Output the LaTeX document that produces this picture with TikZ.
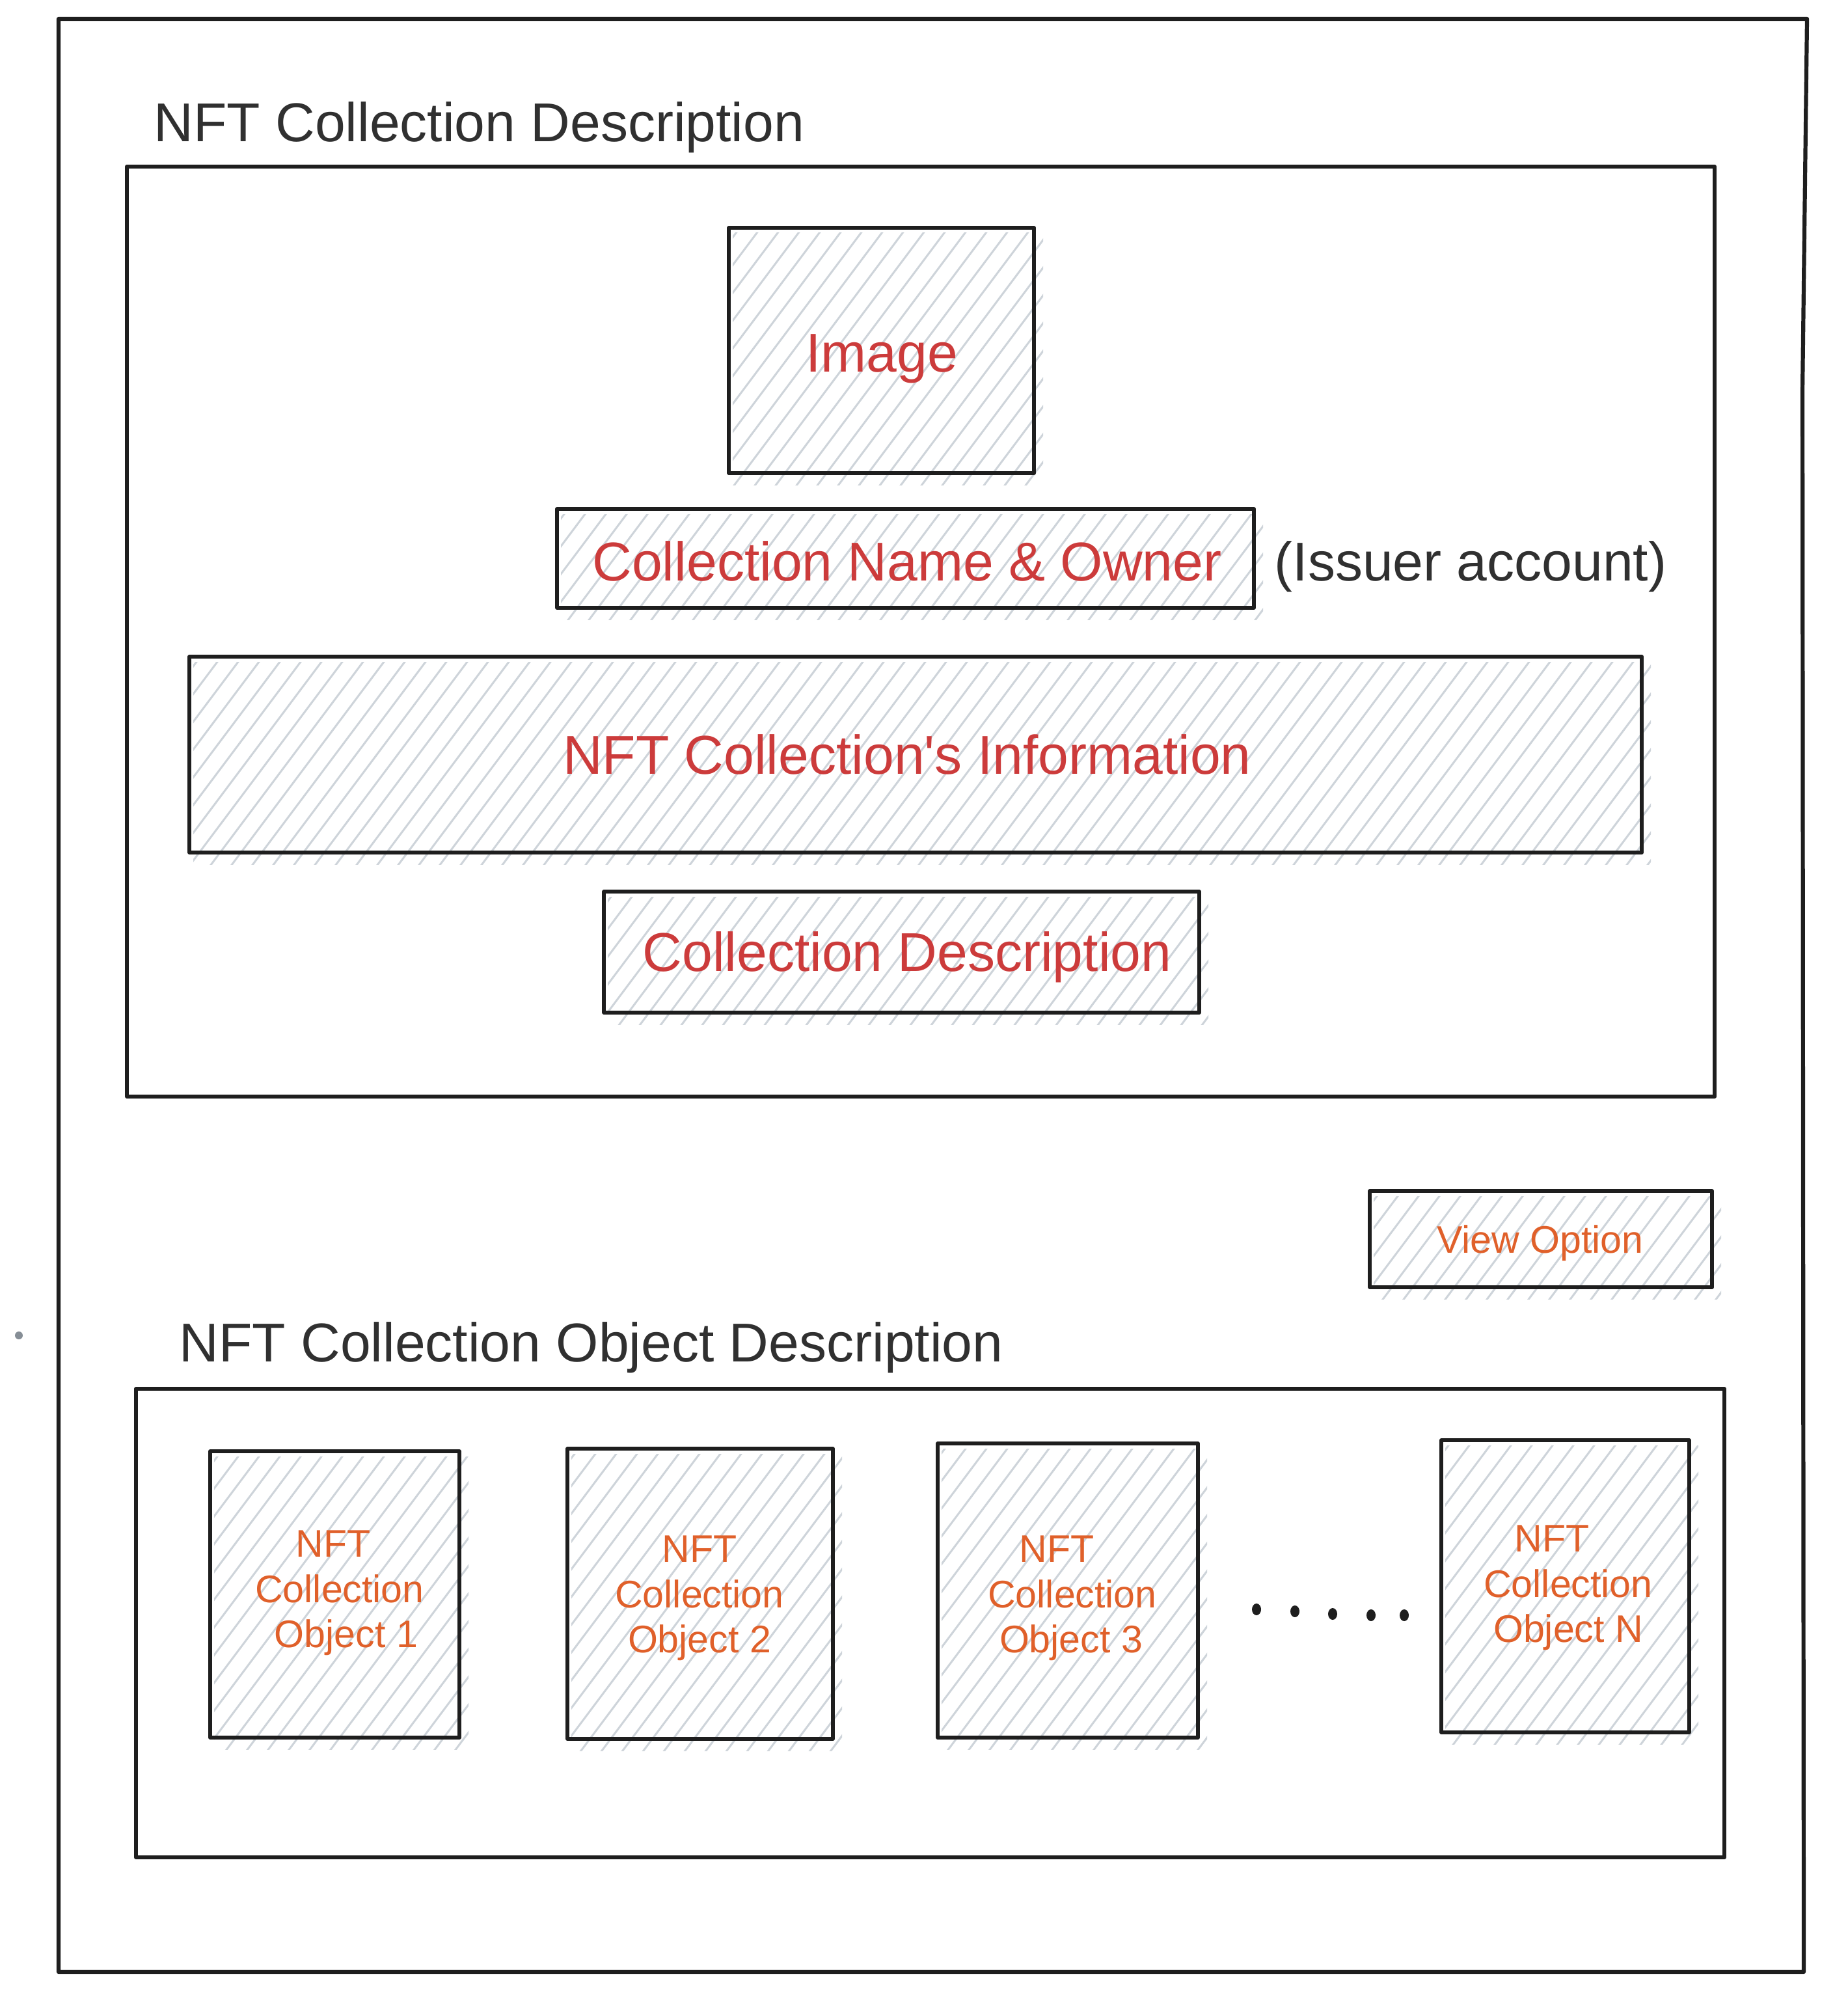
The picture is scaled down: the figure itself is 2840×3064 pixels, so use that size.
\documentclass[tikz,border=0pt]{standalone}
\usepackage{fontspec}
\setmainfont{Liberation Sans}[Ligatures=TeXOff]
\definecolor{ink}{HTML}{1E1E1E}
\definecolor{redtxt}{HTML}{CC3B3B}
\definecolor{orgtxt}{HTML}{E0602A}
\definecolor{hatchc}{HTML}{CED4DA}
\definecolor{dotgray}{HTML}{868E96}
\tikzset{
  frame/.style={draw=ink, line width=0.062cm, line join=round, line cap=round},
  boxline/.style={draw=ink, line width=0.058cm, line join=round, line cap=round},
  hatchline/.style={draw=hatchc, line width=0.03cm},
  bigtxt/.style={inner sep=0pt, anchor=base, font=\fontsize{23.9}{28}\selectfont},
  redlabel/.style={bigtxt, text=redtxt},
  darklabel/.style={bigtxt, text=ink!92},
  smalltxt/.style={inner sep=0pt, anchor=base, text=orgtxt, font=\fontsize{16.8}{20}\selectfont},
}
\newcommand{\hatchbox}[4]{%
  \begin{scope}
    \clip (#1+6,#2+8) rectangle (#3+14,#4+18);
    \pgfmathsetmacro{\hatchH}{#4-#2+50}
    \pgfmathsetmacro{\hatchN}{int((#3-#1+0.75*\hatchH)/32)+2}
    \foreach \k in {0,...,\hatchN} {
      \draw[hatchline] ({#1-0.75*\hatchH+\k*32},{#4+30}) -- ++({0.75*\hatchH},{-\hatchH});
    }
  \end{scope}
  \draw[boxline] (#1,#2) rectangle (#3,#4);
}
\begin{document}
\begin{tikzpicture}[x=0.01cm,y=-0.01cm]
\useasboundingbox (0,0) rectangle (2840,3064);
\fill[white] (0,0) rectangle (2840,3064);

% outer frame
\draw[frame] (90,29) -- (2777,29) -- (2770,600) -- (2772,3030) -- (90,3030) -- cycle;

% top section
\node[darklabel, anchor=base west] (title1) at (236,218) {NFT Collection Description};
\draw[frame] (195,256) rectangle (2635,1685);

\hatchbox{1120}{350}{1589}{727}
\node[redlabel] (image) at (1355,571) {Image};

\hatchbox{856}{782}{1927}{934}
\node[redlabel] (name) at (1394,892) {Collection Name \& Owner};
\node[darklabel, anchor=base west] (issuer) at (1958,892) {(Issuer account)};

\hatchbox{291}{1009}{2523}{1310}
\node[redlabel] (info) at (1394,1189) {NFT Collection's Information};

\hatchbox{928}{1370}{1843}{1556}
\node[redlabel] (desc) at (1394,1492) {Collection Description};

% view option
\hatchbox{2105}{1830}{2631}{1978}
\node[smalltxt] (view) at (2367,1925) {View Option};

% bottom section
\node[darklabel, anchor=base west] (title2) at (275,2092) {NFT Collection Object Description};
\draw[frame] (209,2134) rectangle (2650,2854);

\hatchbox{323}{2230}{706}{2670}
\node[smalltxt] (o1a) at (512,2392) {NFT};
\node[smalltxt] (o1b) at (522,2462) {Collection};
\node[smalltxt] (o1c) at (532,2531) {Object 1};

\hatchbox{872}{2226}{1280}{2672}
\node[smalltxt] (o2a) at (1075,2400) {NFT};
\node[smalltxt] (o2b) at (1075,2470) {Collection};
\node[smalltxt] (o2c) at (1075,2539) {Object 2};

\hatchbox{1441}{2218}{1841}{2670}
\node[smalltxt] (o3a) at (1624,2400) {NFT};
\node[smalltxt] (o3b) at (1648,2470) {Collection};
\node[smalltxt] (o3c) at (1646,2539) {Object 3};

\hatchbox{2215}{2213}{2596}{2662}
\node[smalltxt] (ona) at (2385,2384) {NFT};
\node[smalltxt] (onb) at (2410,2454) {Collection};
\node[smalltxt] (onc) at (2410,2523) {Object N};

% ellipsis dots
\foreach \dx/\dy in {1931/2473, 1990/2476, 2048/2480, 2107/2482, 2158/2482} {
  \fill[ink] (\dx,\dy) ellipse (7 and 9);
}

% stray dot
\fill[dotgray] (29,2052) circle (6);
\end{tikzpicture}
\end{document}
